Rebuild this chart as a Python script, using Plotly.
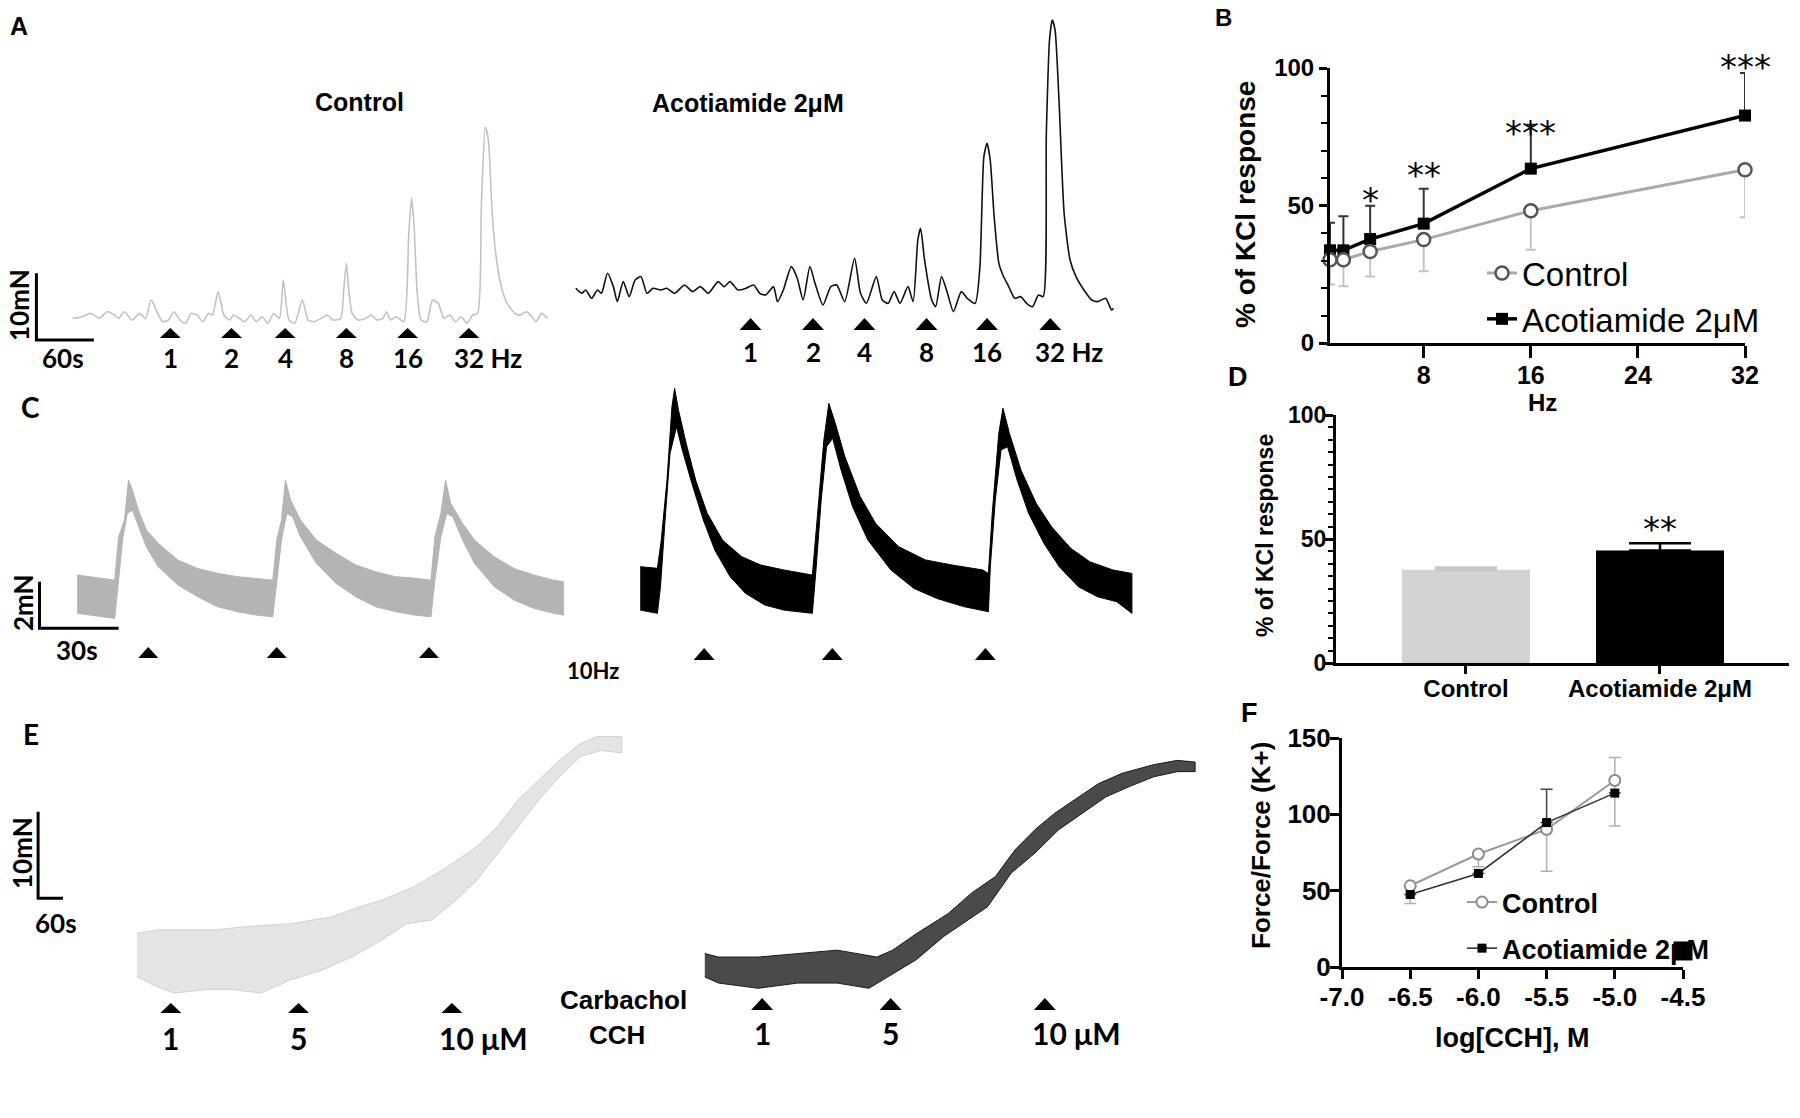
import plotly.graph_objects as go

W, H = 1800, 1118
ARIAL = "Liberation Sans, Arial, Helvetica, sans-serif"
CAL = "Lato, Carlito, Calibri, sans-serif"

# ---------------- Panel A : EFS traces (t in s, force in mN) ----------------
a_ctrl_t = [0, 10, 18, 22, 28, 36, 44, 48, 54, 62, 70, 76, 82, 88, 94, 100, 106, 112, 118, 124,
            130, 136, 142, 146, 152, 158, 164, 168, 174, 180, 186, 192, 198, 204, 210, 216, 220, 226,
            232, 240, 246, 252, 260, 266, 272, 280, 283.2, 286, 288.8, 292, 298, 306, 312, 318, 324,
            328, 332, 338, 346, 351.2, 354, 356.8, 360, 364, 370, 376, 382, 388, 394, 400, 406, 412,
            418, 423.2, 427.2, 431.2, 434.4, 438, 442, 448, 454, 462, 468, 474, 480, 484, 490, 496]
a_ctrl_f = [-0.25, 0, 0.5, 0.25, -0.25, 0.75, 0.25, -0.25, 0.75, -0.5, 0.5, -0.25, 2.5, 0.75, -0.75,
            -0.5, 0.75, -0.5, -1.0, 0.5, 0.25, -0.75, 0.5, 0.25, 3.75, 0.25, -0.5, 0.25, -0.25, -0.75,
            0.25, -0.75, 0, -1.0, 0.5, -0.25, 5.5, -0.5, -1.0, 2.5, -0.5, -0.75, -0.25, 0.25, -0.5,
            -0.25, 4.0, 8.0, 3.5, 0.5, -0.5, -0.25, 0.25, -0.5, -0.25, 0.75, -0.5, 0, -0.75, 12.5,
            17.75, 13.5, 3.5, -0.5, -0.75, 2.5, 2.0, -0.25, 0.25, -0.75, 0, -1.0, 0.25, 0.5, 17.5,
            28.5, 26.5, 16.5, 9.5, 4.5, 2.0, 0.5, 0.25, 0.75, 0, -0.75, 0.5, -0.25]
a_acot_t = [0, 6, 10, 16, 22, 26, 32, 38, 42, 48, 54, 60, 66, 72, 78, 86, 92, 100, 110, 118, 126,
            134, 144, 150, 156, 164, 172, 180, 186, 192, 200, 204, 210, 218, 224, 230, 236.8, 242,
            250, 258, 264, 272, 282, 288, 294, 304, 310, 316, 322, 328, 336, 341.2, 346, 348.8, 352.8,
            360, 364, 370, 376, 382, 390, 396, 404, 408.8, 412.8, 416, 419.2, 423.2, 428, 432, 438,
            444, 450, 456, 462, 468, 472.8, 476, 479.2, 482, 484.8, 488.8, 494, 500, 506, 514, 522,
            528, 536, 542, 544]
a_acot_f = [0.75, 0, 0.5, -0.75, 0.5, 0, 3.0, 1.0, -1.25, 1.75, -0.5, 2.0, 2.5, 0, 0.75, 0.5, 0.75,
            0, 1.25, 0.25, 1.0, 0, 1.75, 1.0, 1.75, 0.5, 0.75, 1.25, 0, -0.25, 1.0, -1.25, 0.5, 4.0,
            2.25, -1.0, 4.0, 1.5, -1.75, 1.0, 1.25, -1.25, 5.25, 0, -1.5, 2.5, -1.0, -1.5, 0.25, -1.5,
            1.0, -1.25, 8.0, 9.75, 5.0, -1.0, -2.0, 2.5, 0, -2.75, 0.25, -0.75, -1.5, 4.0, 20.5, 22.5,
            20.0, 11.5, 4.5, 2.75, 1.0, -0.75, -0.5, -1.5, -2.0, -0.25, -0.5, 24.0, 38.0, 41.0, 39.5,
            29.0, 12.0, 5.0, 2.5, 0.5, -1.0, -1.25, -0.75, -2.5, -2.25]
a_ctrl_stim_t = [102, 166, 222, 286, 350, 414]
a_acot_stim_t = [176.8, 240, 292, 354.8, 416, 480]
a_stim_labels = ["1", "2", "4", "8", "16", "32 Hz"]

# ---------------- Panel B : frequency response ----------------
b_hz = [1, 2, 4, 8, 16, 32]
b_ctrl = [30.3, 30.3, 33.3, 37.6, 48.1, 63.0]
b_ctrl_err = [9.0, 9.7, 9.1, 11.5, 14.2, 17.3]
b_acot = [33.7, 33.7, 37.8, 43.4, 63.4, 82.7]
b_acot_err = [10.0, 12.4, 12.1, 12.7, 16.0, 15.5]
b_sig_hz = [4, 8, 16, 32]
b_sig_y = [55.8, 64.6, 80.0, 104.0]
b_sig_txt = ["*", "**", "***", "***"]

# ---------------- Panel C : 10 Hz trains (band envelopes) ----------------
c_ctrl_up_t = [0, 14.25, 15.75, 18, 19.5, 21, 23.25, 26.25, 30.75, 38.25, 45.75, 53.25, 60.75, 68.25,
               74.25, 75.75, 77.55, 79.05, 81, 84.75, 90.75, 98.25, 105.75, 113.25, 120.75, 128.25,
               134.25, 135.75, 138, 139.8, 141.75, 146.25, 150.75, 158.25, 165.75, 173.25, 180.75, 184.5]
c_ctrl_up_f = [0.93, 0.71, 2.57, 3.29, 5.0, 4.57, 3.71, 2.86, 2.29, 1.57, 1.21, 1.0, 0.86, 0.79, 0.71,
               2.43, 3.29, 5.0, 4.14, 3.29, 2.43, 1.86, 1.36, 1.07, 0.86, 0.79, 0.71, 2.57, 3.57, 5.0,
               4.0, 3.14, 2.43, 1.71, 1.21, 0.93, 0.71, 0.64]
c_ctrl_lo_t = [0, 14.25, 15.75, 17.25, 19.05, 21, 23.25, 26.25, 30.75, 38.25, 45.75, 53.25, 60.75,
               68.25, 74.25, 75.75, 77.55, 79.5, 81.75, 84.75, 90.75, 98.25, 105.75, 113.25, 120.75,
               128.25, 134.25, 135.75, 138, 140.25, 142.5, 146.25, 150.75, 158.25, 165.75, 173.25,
               180.75, 184.5]
c_ctrl_lo_f = [-0.71, -0.93, 0.71, 2.43, 3.57, 3.71, 3.0, 2.14, 1.29, 0.5, 0, -0.43, -0.64, -0.79,
               -0.86, 0.71, 2.43, 3.57, 3.43, 2.57, 1.43, 0.57, 0, -0.43, -0.64, -0.79, -0.86, 0.71,
               2.57, 3.57, 3.43, 2.43, 1.43, 0.43, -0.14, -0.5, -0.71, -0.79]
c_acot_up_t = [0, 6.75, 8.25, 10.5, 12.45, 13.5, 15, 18, 21.75, 26.25, 32.25, 39.75, 47.25, 56.25,
               67.5, 69.45, 72, 73.95, 76.5, 80.25, 86.25, 92.25, 101.25, 111.75, 122.25, 134.25,
               136.5, 138, 140.55, 142.2, 144.75, 149.25, 155.25, 161.25, 168.75, 176.25, 185.25, 192.75]
c_acot_up_f = [1.0, 0.93, 2.14, 4.71, 7.86, 8.64, 7.71, 6.29, 4.71, 3.29, 2.14, 1.43, 1.07, 0.86,
               0.64, 3.29, 6.43, 8.0, 7.14, 5.71, 4.0, 2.86, 1.86, 1.29, 1.07, 0.86, 0.71, 3.29, 6.71,
               7.79, 6.71, 5.14, 3.71, 2.71, 1.79, 1.21, 0.86, 0.71]
c_acot_lo_t = [0, 6.75, 7.95, 9.75, 11.7, 14.25, 16.5, 20.25, 24.75, 29.25, 35.25, 41.25, 48.75,
               56.25, 67.5, 69, 70.95, 73.05, 75.45, 78.75, 83.25, 89.25, 98.25, 107.25, 116.25,
               126.75, 136.5, 137.25, 139.2, 141.45, 144, 147.75, 152.25, 158.25, 164.25, 171.75,
               179.25, 186.75, 192.75]
c_acot_lo_f = [-0.86, -1.0, 0.14, 3.0, 5.86, 7.0, 6.0, 4.57, 3.0, 1.71, 0.57, -0.14, -0.64, -0.86,
               -1.0, 1.0, 3.86, 6.14, 6.5, 5.14, 3.57, 2.14, 0.86, 0.07, -0.36, -0.71, -0.93, 1.0,
               3.86, 6.0, 6.14, 4.71, 3.29, 2.0, 1.0, 0.14, -0.29, -0.5, -1.0]
c_ctrl_stim_t = [27, 75.75, 133.5]
c_acot_stim_t = [25.05, 75.3, 135.3]

# ---------------- Panel D : 10 Hz summary ----------------
d_groups = ["Control", "Acotiamide 2μM"]
d_vals = [37.6, 45.4]
d_err = [0.9, 2.9]
d_sig_txt = ["", "**"]
d_sig_y = [None, 55.7]

# ---------------- Panel E : carbachol traces (band envelopes) ----------------
e_ctrl_up_t = [0, 50, 120, 190, 270, 370, 470, 540, 590, 670, 750, 820, 870, 920, 970, 1020, 1070, 1110, 1170]
e_ctrl_up_f = [7.7, 8.1, 8.1, 8.1, 8.5, 8.8, 9.6, 10.8, 11.5, 13.1, 15.4, 17.7, 20.0, 23.1, 25.4, 27.7, 29.6, 30.4, 30.4]
e_ctrl_lo_t = [0, 50, 90, 170, 230, 300, 370, 450, 520, 590, 650, 710, 770, 820, 870, 920, 970, 1020, 1070, 1120, 1170]
e_ctrl_lo_f = [2.7, 1.5, 0.8, 1.2, 1.2, 0.8, 2.3, 3.5, 5.0, 6.9, 8.8, 9.2, 11.5, 13.8, 16.9, 20.0, 23.1, 25.8, 28.1, 28.8, 28.5]
e_acot_up_t = [0, 35, 135, 235, 335, 435, 475, 535, 615, 675, 735, 785, 835, 885, 935, 995, 1055, 1135, 1195, 1240]
e_acot_up_f = [4.2, 3.8, 3.8, 4.2, 4.6, 3.8, 4.6, 6.5, 8.8, 11.2, 13.1, 16.2, 18.5, 20.4, 21.9, 23.8, 25.0, 26.0, 26.5, 26.3]
e_acot_lo_t = [0, 35, 135, 235, 335, 415, 475, 535, 605, 665, 715, 775, 835, 895, 955, 1015, 1075, 1135, 1195, 1240]
e_acot_lo_f = [1.5, 0.8, 0.2, 0.8, 0.8, 0.2, 1.9, 3.5, 6.2, 8.1, 9.6, 13.5, 15.8, 18.5, 20.4, 22.3, 23.5, 24.6, 25.2, 25.2]
e_ctrl_stim_t = [82, 390, 760]
e_acot_stim_t = [145, 470, 860]
e_stim_labels = ["1", "5", "10 μM"]

# ---------------- Panel F : CCH concentration response ----------------
f_logc = [-6.5, -6.0, -5.5, -5.0]
f_ctrl = [53.2, 74.0, 90.2, 122.2]
f_ctrl_err_plus = [0, 0, 0, 15.1]
f_ctrl_err_minus = [11.6, 8.3, 27.4, 29.8]
f_acot = [47.5, 61.3, 94.6, 113.9]
f_acot_err_plus = [0, 0, 21.9, 0]
f_acot_err_minus = [0, 0, 0, 0]
f_stray_x = [-4.5]
f_stray_y = [10.5]

fig = go.Figure()
lay = {}
shapes = []
anns = []


def P(x, y):
    return x / W, 1 - y / H


class TracePanel:
    def __init__(self, n, box, x0, spx, y0, mpx):
        self.n = n
        self.xr = 'x' if n == 1 else f'x{n}'
        self.yr = 'y' if n == 1 else f'y{n}'
        self.x0, self.spx, self.y0, self.mpx = x0, spx, y0, mpx
        l, t, r, b = box
        xk = 'xaxis' if n == 1 else f'xaxis{n}'
        yk = 'yaxis' if n == 1 else f'yaxis{n}'
        lay[xk] = dict(domain=[l / W, r / W], range=[self.t(l), self.t(r)], visible=False,
                       anchor=self.yr, fixedrange=True, automargin=False)
        lay[yk] = dict(domain=[1 - b / H, 1 - t / H], range=[self.f(b), self.f(t)], visible=False,
                       anchor=self.xr, fixedrange=True, automargin=False)

    def t(self, px):
        return (px - self.x0) * self.spx

    def f(self, py):
        return (self.y0 - py) * self.mpx

    def line(self, xs, ys, color, width):
        fig.add_trace(go.Scatter(x=xs, y=ys, mode='lines',
                                 line=dict(color=color, width=width, shape='spline', smoothing=0.6),
                                 xaxis=self.xr, yaxis=self.yr, showlegend=False, hoverinfo='skip'))

    def band(self, ut, uf, lt, lf, fill, edge):
        fig.add_trace(go.Scatter(x=ut + lt[::-1], y=uf + lf[::-1], mode='lines', fill='toself',
                                 fillcolor=fill, line=dict(color=edge, width=1),
                                 xaxis=self.xr, yaxis=self.yr, showlegend=False, hoverinfo='skip'))

    def triangles(self, times, base_px, apex_px, w_px):
        a = w_px / 2 * self.spx
        yb, yt = self.f(base_px), self.f(apex_px)
        for tt in times:
            shapes.append(dict(type='path', xref=self.xr, yref=self.yr,
                               path=f"M {tt - a},{yb} L {tt + a},{yb} L {tt},{yt} Z",
                               fillcolor='black', line=dict(width=0)))

    def labels(self, times, texts, y_px, size, family=CAL, last_shift=-17):
        for tt, tx in zip(times, texts):
            last = (' ' in tx)
            anns.append(dict(x=tt, y=1 - y_px / H, xref=self.xr, yref='paper', text=tx,
                             showarrow=False, xanchor='left' if last else 'center', yanchor='middle',
                             xshift=last_shift if last else 0,
                             font=dict(family=family, size=size, color='black', weight='bold')))

    def scalebar(self, corner_px, vert, horiz):
        tx, fy = self.t(corner_px[0]), self.f(corner_px[1])
        shapes.append(dict(type='path', xref=self.xr, yref=self.yr,
                           path=f"M {tx},{fy + vert} L {tx},{fy} L {tx + horiz},{fy}",
                           line=dict(color='black', width=3), fillcolor='rgba(0,0,0,0)'))


def text(s, x, y, size, family=ARIAL, angle=0, bold=True, color='black'):
    px, py = P(x, y)
    anns.append(dict(x=px, y=py, xref='paper', yref='paper', text=s, showarrow=False,
                     xanchor='center', yanchor='middle', textangle=angle,
                     font=dict(family=family, size=size, color=color,
                               weight='bold' if bold else 'normal')))


# ---- trace panels ----
A1 = TracePanel(1, (0, 60, 560, 385), 72.7, 1.045, 316.7, 0.15)
A2 = TracePanel(2, (560, 0, 1150, 385), 575.8, 1.0116, 293.3, 0.15)
C1 = TracePanel(3, (0, 440, 600, 700), 77.1, 0.3794, 596.7, 0.04286)
C2 = TracePanel(4, (600, 370, 1180, 700), 640.2, 0.392, 590.0, 0.04286)
E1 = TracePanel(5, (0, 700, 650, 1070), 136.8, 2.412, 1000.0, 0.1154)
E2 = TracePanel(6, (650, 700, 1240, 1070), 704.8, 2.529, 990.0, 0.1154)

A1.line(a_ctrl_t, a_ctrl_f, '#c2c2c2', 1.6)
A2.line(a_acot_t, a_acot_f, '#111111', 1.6)
A1.triangles(a_ctrl_stim_t, 338, 328, 21)
A2.triangles(a_acot_stim_t, 330, 318, 22)
A1.labels(a_ctrl_stim_t, a_stim_labels, 358, 26)
A2.labels(a_acot_stim_t, a_stim_labels, 352, 26)
A1.scalebar((36.4, 340), 10, 60)

C1.band(c_ctrl_up_t, c_ctrl_up_f, c_ctrl_lo_t, c_ctrl_lo_f, '#b4b4b4', '#b4b4b4')
C2.band(c_acot_up_t, c_acot_up_f, c_acot_lo_t, c_acot_lo_f, '#000000', '#000000')
C1.triangles(c_ctrl_stim_t, 658, 647, 20)
C2.triangles(c_acot_stim_t, 660, 648, 21)
C1.scalebar((39.5, 628.3), 2, 30)

E1.band(e_ctrl_up_t, e_ctrl_up_f, e_ctrl_lo_t, e_ctrl_lo_f, '#e4e4e4', '#d2d2d2')
E2.band(e_acot_up_t, e_acot_up_f, e_acot_lo_t, e_acot_lo_f, '#4a4a4a', '#1a1a1a')
E1.triangles(e_ctrl_stim_t, 1013, 1003, 21)
E2.triangles(e_acot_stim_t, 1010, 998, 22)
E1.labels(e_ctrl_stim_t, e_stim_labels, 1038, 30, last_shift=-15)
E2.labels(e_acot_stim_t, e_stim_labels, 1033, 30, last_shift=-15)
E1.scalebar((38.1, 898.3), 10, 60)

# ---- text for trace panels ----
text("A", 19, 26, 25)
text("Control", 359, 102, 25)
text("Acotiamide 2μM", 748, 103, 25)
text("10mN", 19, 305, 26, CAL, -90)
text("60s", 63, 358, 26, CAL)
text("C", 30, 407, 28, CAL)
text("2mN", 23, 603, 26, CAL, -90)
text("30s", 77, 650, 26, CAL)
text("10Hz", 593, 670, 22, CAL)
text("E", 31, 734, 28, CAL)
text("10mN", 22, 853, 26, CAL, -90)
text("60s", 56, 923, 26, CAL)
text("Carbachol", 623, 1000, 26)
text("CCH", 617, 1035, 26)

# ---- Panel B ----
AXB = dict(showline=True, linecolor='black', ticks='outside', tickcolor='black', showgrid=False,
           zeroline=False, fixedrange=True, automargin=False)
B_DOM_Y = [1 - 343 / H, 1 - 68 / H]
lay['xaxis7'] = dict(AXB, domain=[1330 / W, 1745 / W], range=[1, 32], tickvals=[8, 16, 24, 32],
                     ticklen=12, tickwidth=3, linewidth=3, anchor='y7', ticklabelstandoff=-4,
                     tickfont=dict(family=ARIAL, size=25, color='black', weight='bold'))
lay['yaxis7'] = dict(AXB, domain=B_DOM_Y, range=[0, 100], tickvals=[0, 50, 100],
                     ticklen=8, tickwidth=3, linewidth=3, anchor='x7', ticklabelstandoff=0,
                     minor=dict(ticks='outside', tickvals=[10, 20, 30, 40, 60, 70, 80, 90],
                                ticklen=6, tickwidth=2, tickcolor='black'),
                     tickfont=dict(family=ARIAL, size=24, color='black', weight='bold'))
fig.add_trace(go.Scatter(x=b_hz, y=b_acot, mode='lines+markers', name='Acotiamide 2μM',
                         line=dict(color='black', width=3.5),
                         marker=dict(symbol='square', size=12, color='black'),
                         error_y=dict(type='data', symmetric=False, array=b_acot_err,
                                      arrayminus=[0] * len(b_acot), color='#333333', thickness=2, width=5),
                         xaxis='x7', yaxis='y7', legend='legend', legendrank=2, cliponaxis=False))
fig.add_trace(go.Scatter(x=b_hz, y=b_ctrl, mode='lines+markers', name='Control',
                         line=dict(color='#aaaaaa', width=3),
                         marker=dict(symbol='circle', size=13, color='white',
                                     line=dict(color='#555555', width=2.5)),
                         error_y=dict(type='data', symmetric=False, array=[0] * len(b_ctrl),
                                      arrayminus=b_ctrl_err, color='#c4c4c4', thickness=2, width=5),
                         xaxis='x7', yaxis='y7', legend='legend', legendrank=1, cliponaxis=False))
for hz, yy, s in zip(b_sig_hz, b_sig_y, b_sig_txt):
    # paper y so that marks above the 100 limit are still drawn
    py = B_DOM_Y[0] + yy / 100 * (B_DOM_Y[1] - B_DOM_Y[0])
    anns.append(dict(x=hz, y=py, xref='x7', yref='paper', text=s, showarrow=False, yshift=12,
                     font=dict(family='DejaVu Sans', size=34, color='black')))
text("B", 1223, 18, 24)
text("% of KCl response", 1245, 205, 28, angle=-90)
text("Hz", 1542, 403, 24)

# ---- Panel D ----
D_DOM_Y = [1 - 663 / H, 1 - 415 / H]
lay['xaxis8'] = dict(AXB, type='category', domain=[1336 / W, 1789 / W], range=[-0.67, 1.665],
                     ticklen=8, tickwidth=2.5, linewidth=3, anchor='y8', ticklabelstandoff=-6,
                     tickfont=dict(family=ARIAL, size=24, color='black', weight='bold'))
lay['yaxis8'] = dict(AXB, domain=D_DOM_Y, range=[0, 100], tickvals=[0, 50, 100],
                     ticklen=8, tickwidth=2.5, linewidth=3, anchor='x8', ticklabelstandoff=-6,
                     minor=dict(ticks='outside', dtick=5, ticklen=5, tickwidth=1.5, tickcolor='black'),
                     tickfont=dict(family=ARIAL, size=23, color='black', weight='bold'))
d_colors = ['#d3d3d3', '#000000']
d_errc = ['#c8c8c8', '#000000']
for g, v, e, c, ec in zip(d_groups, d_vals, d_err, d_colors, d_errc):
    fig.add_trace(go.Bar(x=[g], y=[v], width=0.66, marker=dict(color=c, line=dict(width=0)),
                         error_y=dict(type='data', symmetric=False, array=[e], arrayminus=[0],
                                      color=ec, thickness=2.5, width=31),
                         xaxis='x8', yaxis='y8', showlegend=False))
for g, s, yy in zip(d_groups, d_sig_txt, d_sig_y):
    if s:
        py = D_DOM_Y[0] + yy / 100 * (D_DOM_Y[1] - D_DOM_Y[0])
        anns.append(dict(x=g, y=py, xref='x8', yref='paper', text=s, showarrow=False, yshift=-4,
                         font=dict(family='DejaVu Sans', size=34, color='black')))
text("D", 1238, 377, 27)
text("% of KCl response", 1265, 536, 23, angle=-90)

# ---- Panel F ----
lay['xaxis9'] = dict(AXB, domain=[1342 / W, 1683 / W], range=[-7, -4.5],
                     tickvals=[-7, -6.5, -6, -5.5, -5, -4.5],
                     ticktext=[f"{v:.1f}" for v in [-7, -6.5, -6, -5.5, -5, -4.5]],
                     ticklen=9, tickwidth=2.5, linewidth=3, anchor='y9', ticklabelstandoff=-4,
                     tickfont=dict(family=ARIAL, size=26, color='black', weight='bold'))
lay['yaxis9'] = dict(AXB, domain=[1 - 967 / H, 1 - 738 / H], range=[0, 150],
                     tickvals=[0, 50, 100, 150], ticklen=9, tickwidth=2.5, linewidth=3, anchor='x9',
                     ticklabelstandoff=-6,
                     tickfont=dict(family=ARIAL, size=26, color='black', weight='bold'))
fig.add_trace(go.Scatter(x=f_logc, y=f_ctrl, mode='lines+markers', name='Control',
                         line=dict(color='#9a9a9a', width=2),
                         marker=dict(symbol='circle', size=11, color='white',
                                     line=dict(color='#8c8c8c', width=2)),
                         error_y=dict(type='data', symmetric=False, array=f_ctrl_err_plus,
                                      arrayminus=f_ctrl_err_minus, color='#b0b0b0', thickness=1.5, width=6),
                         xaxis='x9', yaxis='y9', legend='legend2', legendgroup='fc', legendrank=1,
                         cliponaxis=False))
fig.add_trace(go.Scatter(x=f_logc, y=f_acot, mode='lines+markers', name='Acotiamide 2μM',
                         line=dict(color='#333333', width=1.6),
                         marker=dict(symbol='square', size=9, color='black'),
                         error_y=dict(type='data', symmetric=False, array=f_acot_err_plus,
                                      arrayminus=f_acot_err_minus, color='#444444', thickness=1.5, width=6),
                         xaxis='x9', yaxis='y9', legend='legend2', legendgroup='fa', legendrank=2,
                         cliponaxis=False))
fig.add_trace(go.Scatter(x=f_stray_x, y=f_stray_y, mode='markers',
                         marker=dict(symbol='square', size=19, color='black'),
                         xaxis='x9', yaxis='y9', showlegend=False, cliponaxis=False))
text("F", 1249, 713, 27)
text("Force/Force (K+)", 1261, 846, 26, angle=-90)
text("log[CCH], M", 1512, 1038, 27)

fig.update_layout(
    width=W, height=H, margin=dict(l=0, r=0, t=0, b=0, pad=0, autoexpand=False),
    paper_bgcolor='white', plot_bgcolor='rgba(0,0,0,0)', barmode='overlay',
    showlegend=True,
    legend=dict(x=1482 / W, y=1 - 245 / H, xanchor='left', yanchor='top', bgcolor='rgba(0,0,0,0)',
                font=dict(family=ARIAL, size=33, color='black'), itemwidth=30, traceorder='normal'),
    legend2=dict(x=1462 / W, y=1 - 878 / H, xanchor='left', yanchor='top', bgcolor='rgba(0,0,0,0)',
                 font=dict(family=ARIAL, size=27, color='black', weight='bold'), itemwidth=30,
                 traceorder='grouped', tracegroupgap=8),
    shapes=shapes, annotations=anns,
    **lay,
)

fig.write_html("out.html", config={'displayModeBar': False},
               post_script="document.body.style.margin='0px';document.body.style.padding='0px';")
